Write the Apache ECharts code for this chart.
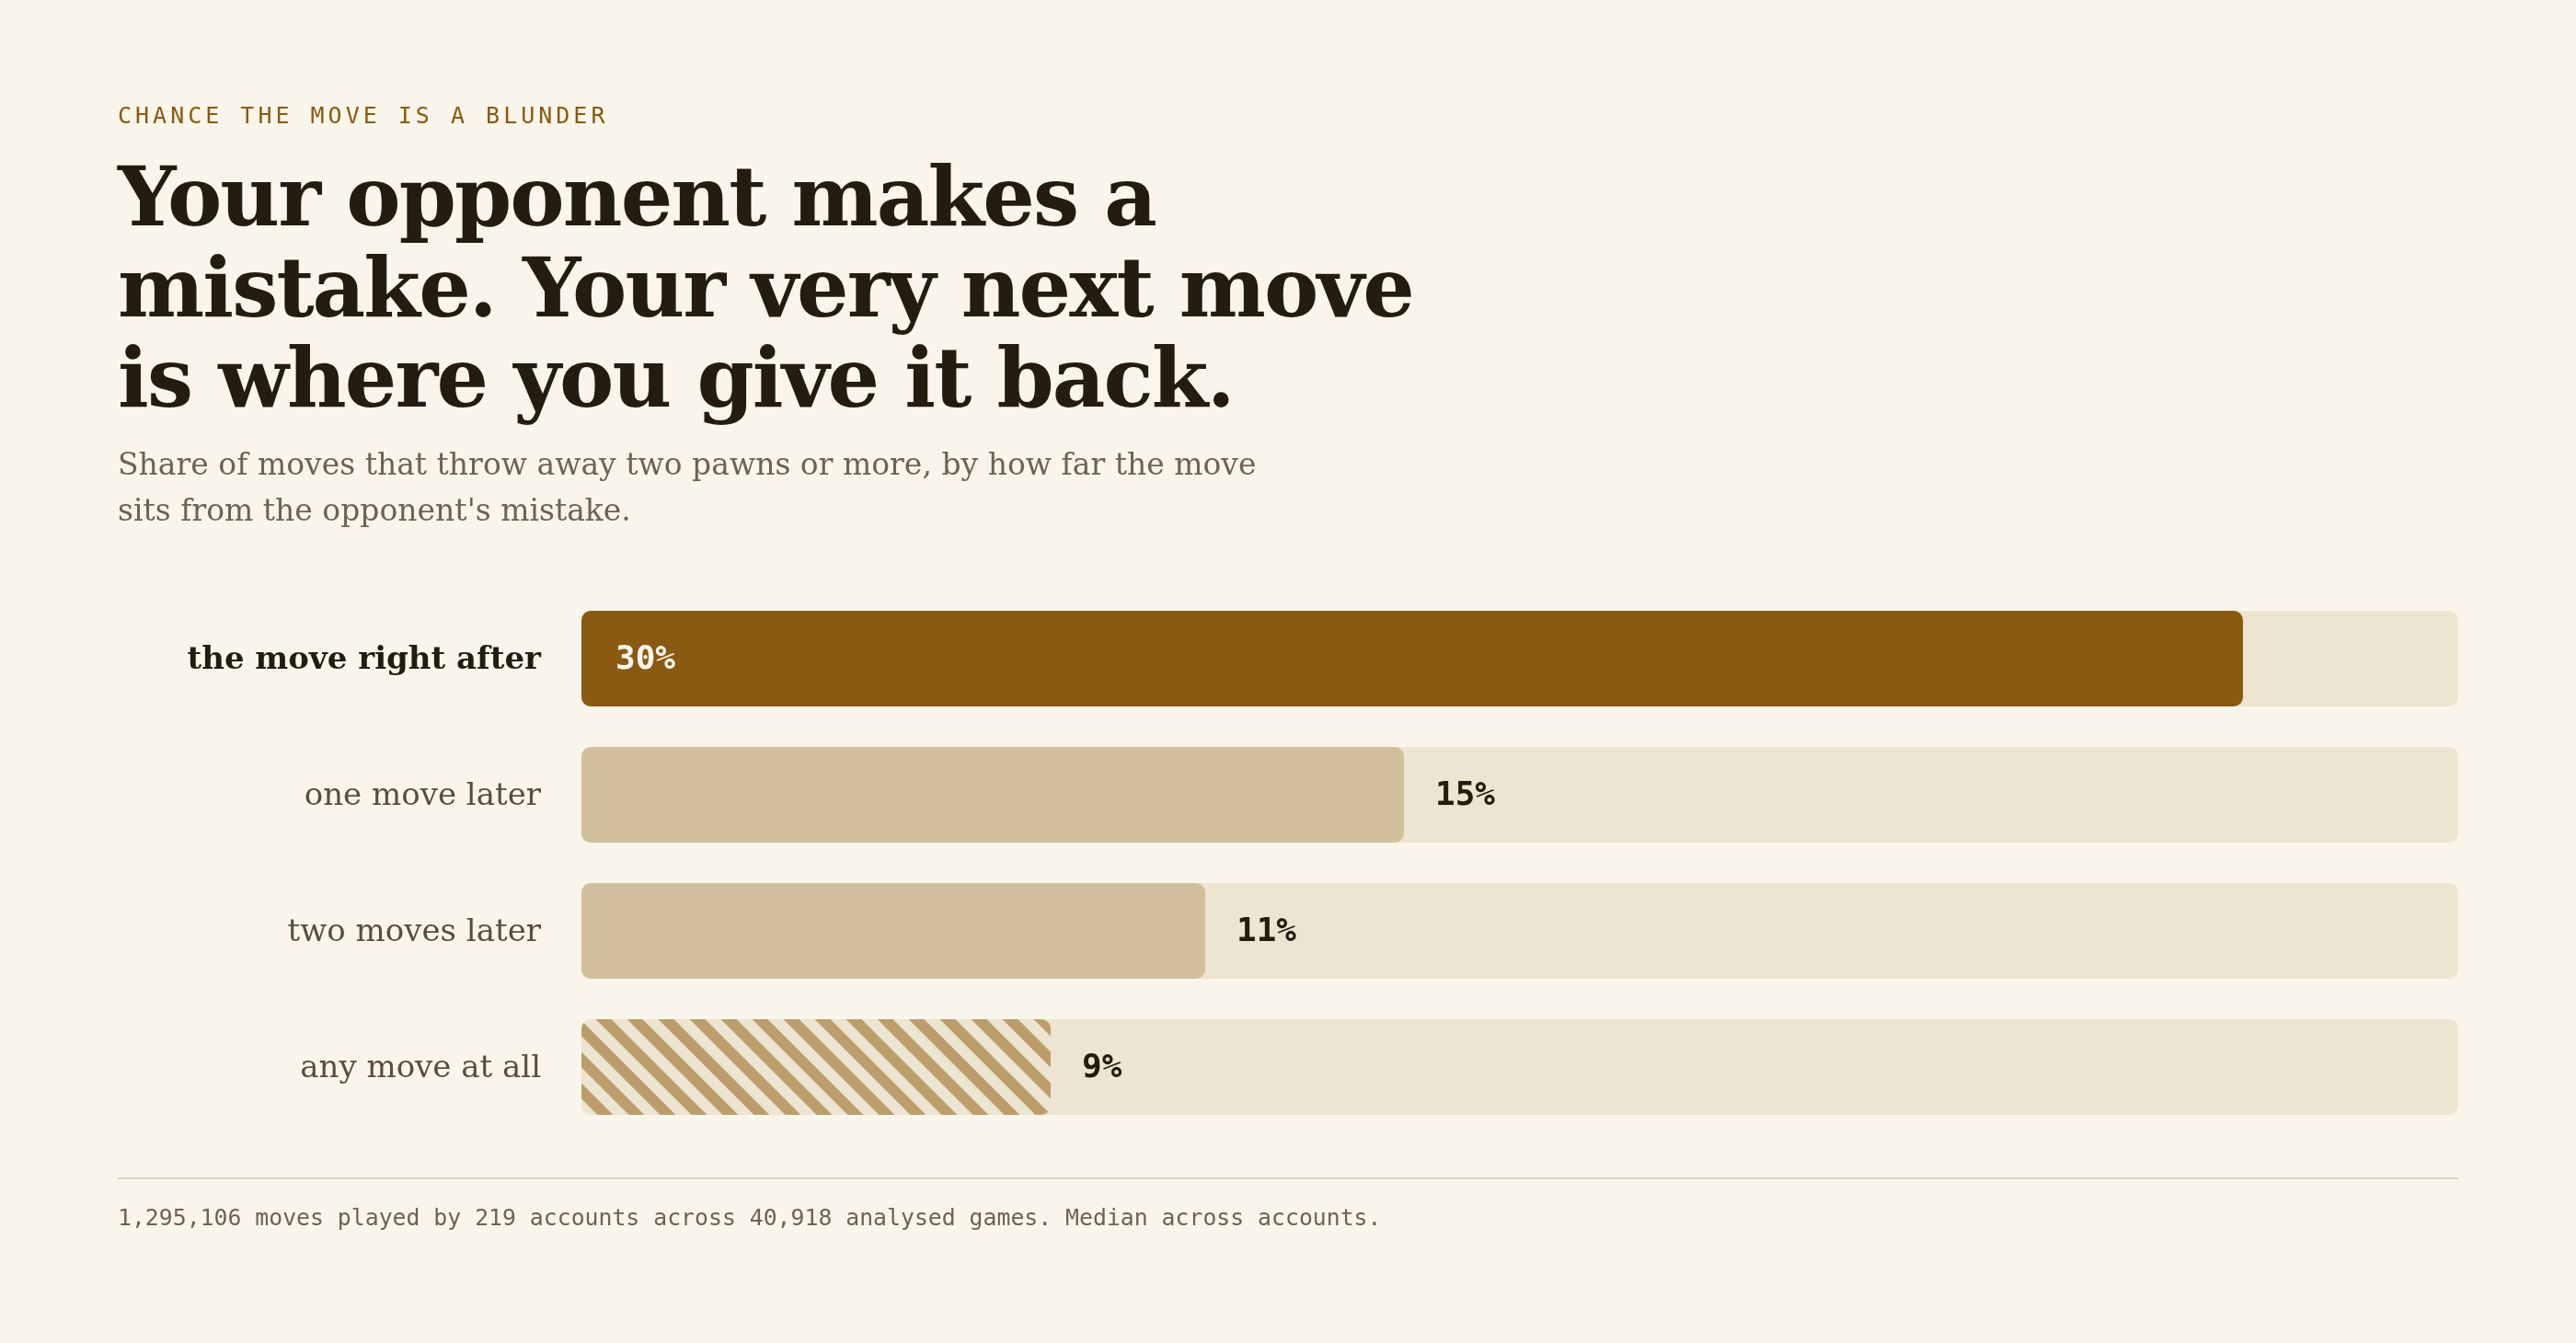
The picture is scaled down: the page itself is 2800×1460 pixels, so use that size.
<!DOCTYPE html>
<html>
<head>
<meta charset="utf-8">
<title>Blunder after the opponent's mistake</title>
<script src="https://cdn.jsdelivr.net/npm/echarts@6/dist/echarts.min.js"></script>
<style>
  html, body { margin: 0; padding: 0; background: #f9f5ea; }
  #main { position: absolute; left: 0; top: 0; width: 2800px; height: 1460px; }
  .txt { position: absolute; left: 128px; margin: 0; white-space: nowrap; }
  .eyebrow {
    top: 113px; font: 25px/25px "DejaVu Sans Mono", monospace;
    letter-spacing: 4px; color: #8a5a12;
  }
  .headline {
    top: 165px; font: bold 89px/98.5px "DejaVu Serif", serif; color: #241c10;
    letter-spacing: -1.9px;
  }
  .sub {
    top: 480px; font: 33px/50px "DejaVu Serif", serif; color: #6f6253;
  }
  .foot {
    top: 1312px; font: 24.8px/24px "DejaVu Sans Mono", monospace; color: #6f6253;
  }
</style>
</head>
<body>
<div id="main"></div>
<p class="txt eyebrow">CHANCE THE MOVE IS A BLUNDER</p>
<h1 class="txt headline">Your opponent makes a<br>mistake. Your very next move<br>is where you give it back.</h1>
<p class="txt sub">Share of moves that throw away two pawns or more, by how far the move<br>sits from the opponent's mistake.</p>
<p class="txt foot">1,295,106 moves played by 219 accounts across 40,918 analysed games. Median across accounts.</p>

<script>
// data
var categories = ['the move right after', 'one move later', 'two moves later', 'any move at all'];
var blunderShare = [30.1, 14.9, 11.3, 8.5];
var axisMax = 34;

// colours
var bg = '#f9f5ea';
var track = '#ede4d1';
var accent = '#8a5a13';
var muted = '#d2bf9b';
var stripe = '#bc9e6e';
var ink = '#231c10';

// diagonal stripes for the baseline bar
function stripePattern() {
    var c = document.createElement('canvas');
    c.width = 34;
    c.height = 34;
    var ctx = c.getContext('2d');
    ctx.fillStyle = track;
    ctx.fillRect(0, 0, 34, 34);
    ctx.strokeStyle = stripe;
    ctx.lineWidth = 12;
    for (var k = -34; k <= 68; k += 34) {
        ctx.beginPath();
        ctx.moveTo(k - 20, -10);
        ctx.lineTo(k + 34, 44);
        ctx.stroke();
    }
    return c;
}

var barColors = [accent, muted, muted, { image: stripePattern(), repeat: 'repeat' }];

var seriesData = blunderShare.map(function (v, i) {
    var item = { value: v, itemStyle: { color: barColors[i] } };
    if (i === 0) {
        item.label = { position: 'insideLeft', distance: 37, color: bg };
    }
    return item;
});

var myChart = echarts.init(document.getElementById('main'));
myChart.setOption({
    animation: false,
    backgroundColor: 'transparent',
    grid: { left: 632, right: 128, top: 642, height: 592 },
    xAxis: {
        type: 'value',
        min: 0,
        max: axisMax,
        show: false
    },
    yAxis: {
        type: 'category',
        inverse: true,
        data: categories,
        axisLine: { show: false },
        axisTick: { show: false },
        splitLine: { show: false },
        axisLabel: {
            margin: 44,
            formatter: function (value, idx) {
                return idx === 0 ? '{b|' + value + '}' : '{r|' + value + '}';
            },
            rich: {
                b: { fontFamily: 'DejaVu Serif', fontSize: 34, fontWeight: 'bold', color: ink, padding: [4, 0, 0, 0] },
                r: { fontFamily: 'DejaVu Serif', fontSize: 34, color: '#5b4d3e', padding: [4, 0, 0, 0] }
            }
        }
    },
    series: [
        {
            type: 'bar',
            data: seriesData,
            barWidth: 104,
            showBackground: true,
            backgroundStyle: { color: track, borderRadius: 10 },
            itemStyle: { borderRadius: 10 },
            label: {
                show: true,
                position: 'right',
                distance: 34,
                offset: [0, 2],
                fontFamily: 'DejaVu Sans Mono',
                fontWeight: 'bold',
                fontSize: 36,
                color: ink,
                formatter: function (p) {
                    return Math.round(p.value) + '%';
                }
            },
            emphasis: { disabled: true }
        }
    ],
    graphic: [
        {
            type: 'rect',
            shape: { x: 128, y: 1280, width: 2544, height: 2 },
            style: { fill: '#dad3c5' },
            silent: true
        }
    ]
});
</script>
</body>
</html>
